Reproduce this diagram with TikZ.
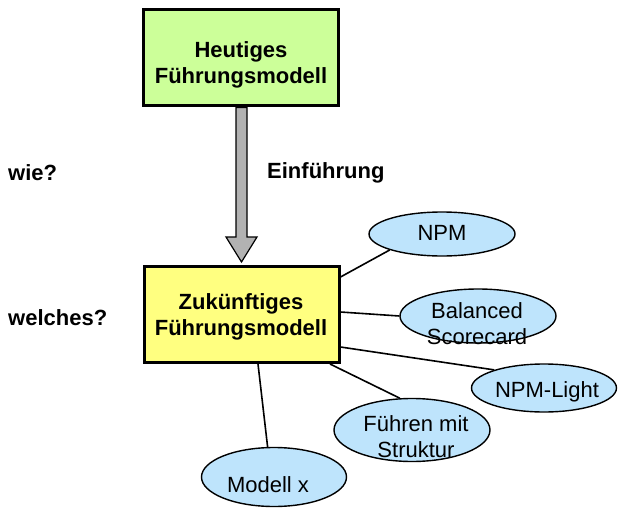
\documentclass[tikz,border=0pt]{standalone}
\usepackage{fontspec}
\setmainfont{Liberation Sans}
\usetikzlibrary{shapes.geometric,calc,backgrounds}
\definecolor{boxgreen}{RGB}{204,255,153}
\definecolor{boxyellow}{RGB}{255,255,128}
\definecolor{ellblue}{RGB}{190,228,252}
\definecolor{arrowgray}{RGB}{178,178,178}
\tikzset{
  bigfont/.style={font=\fontsize{22}{26}\selectfont},
  mainbox/.style={draw=black, line width=3pt, minimum width=195pt, minimum height=96pt, inner sep=0pt, align=center, bigfont},
  ell/.style={ellipse, draw=black, line width=1.4pt, fill=ellblue, inner sep=0pt},
  etext/.style={align=center, bigfont, inner sep=0pt},
  sidelabel/.style={anchor=west, inner sep=0pt, font=\fontsize{22}{26}\selectfont\bfseries},
  conn/.style={line width=1.6pt, draw=black},
}
\begin{document}
\begin{tikzpicture}[x=1pt,y=-1pt]
\useasboundingbox (0,0) rectangle (618,508);
% boxes
\node[mainbox, fill=boxgreen] (top) at (240.5,58) {};
\node[mainbox, fill=boxyellow] (fut) at (241.5,314.5) {};
\node[etext, font=\fontsize{22}{26}\selectfont\bfseries] (toptext) at (241,65) {Heutiges\\Führungsmodell};
\node[etext, font=\fontsize{22}{26}\selectfont\bfseries] (futtext) at (241,316.5) {Zukünftiges\\Führungsmodell};
% arrow (behind the boxes)
\coordinate (tip) at ($(fut.north)+(0,-3)$);
\coordinate (start) at (top.south -| tip);
\begin{pgfonlayer}{background}
\draw[line width=1.2pt, fill=arrowgray]
  ($(start)+(-5.5,0)$) -- ($(tip)+(-5.5,-25)$) -- ($(tip)+(-15.5,-25)$) -- (tip)
  -- ($(tip)+(15.5,-25)$) -- ($(tip)+(5.5,-25)$) -- ($(start)+(5.5,0)$) -- cycle;
\end{pgfonlayer}
% side labels
\node[sidelabel] (wie) at (8,173) {wie?};
\node[sidelabel] (einf) at (267,173) {Einführung};
\node[sidelabel] (welches) at (8,318) {welches?};
% ellipses
\node[ell, minimum width=146pt, minimum height=44pt] (npm) at (442,234) {};
\node[ell, minimum width=156pt, minimum height=54pt] (bsc) at (478,316) {};
\node[ell, minimum width=145pt, minimum height=48pt] (light) at (544,388) {};
\node[ell, minimum width=156pt, minimum height=63pt] (fms) at (412,430) {};
\node[ell, minimum width=145pt, minimum height=59pt] (modx) at (274,477) {};
% connectors
\draw[conn] ([yshift=37.5pt]fut.east) -- (npm.197);
\draw[conn] ([yshift=2.5pt]fut.east) -- (bsc.west);
\draw[conn] ([yshift=-32.5pt]fut.east) -- (light.160);
\draw[conn] ([xshift=88.5pt]fut.south) -- (fms.111);
\draw[conn] ([xshift=16.5pt]fut.south) -- (modx.102);
% ellipse texts
\node[etext] (npmt) at (442,233) {NPM};
\node[etext] (bsct) at (477,324) {Balanced\\Scorecard};
\node[etext] (lightt) at (547,392) {NPM-Light};
\node[etext] (fmst) at (416,437) {Führen mit\\Struktur};
\node[etext] (modxt) at (268,485) {Modell x};
\end{tikzpicture}
\end{document}
